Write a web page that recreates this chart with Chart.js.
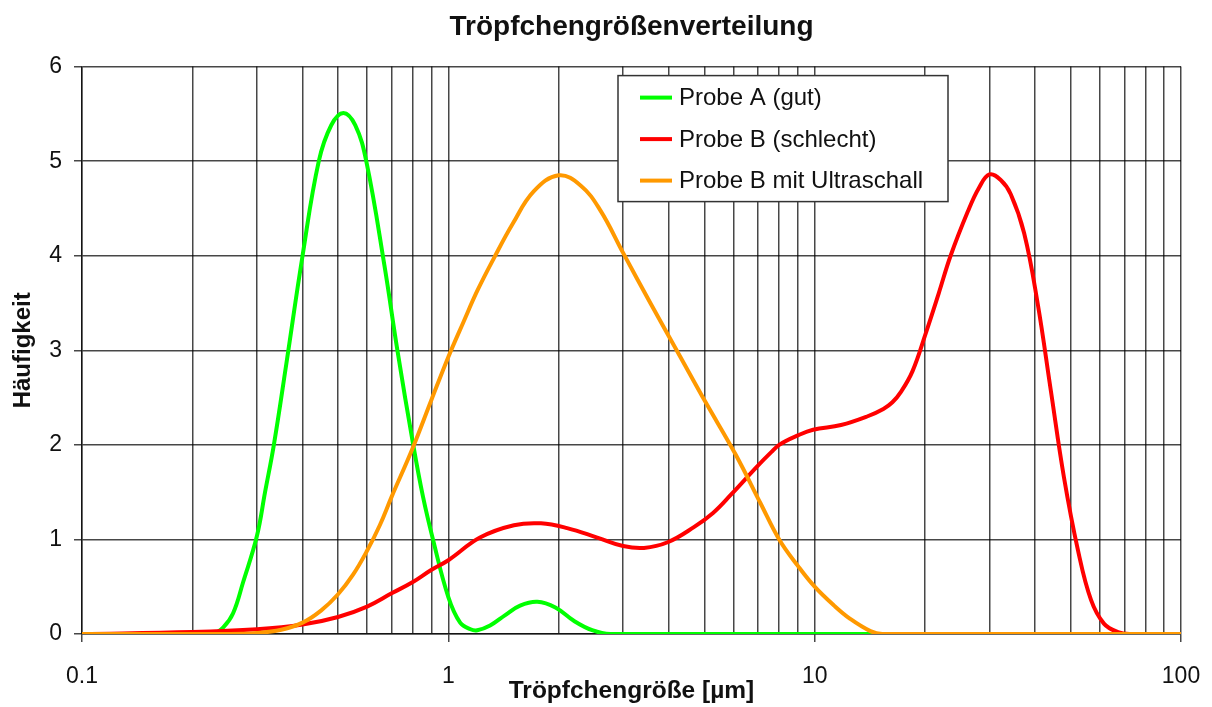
<!DOCTYPE html>
<html lang="de">
<head>
<meta charset="utf-8">
<title>Tröpfchengrößenverteilung</title>
<script src="https://cdn.jsdelivr.net/npm/chart.js@4.4.1/dist/chart.umd.min.js"></script>
<style>
  html, body { margin: 0; padding: 0; background: #fff; }
  #wrap { width: 1212px; height: 707px; }
</style>
</head>
<body>
<div id="wrap"><canvas id="dropChart" width="1212" height="707"></canvas></div>
<script>
// droplet size in µm (log axis) and frequency
const sizesA = [0.1, 0.2, 0.228, 0.243, 0.2585, 0.2754, 0.3, 0.316, 0.334, 0.361, 0.4, 0.443, 0.479, 0.517, 0.557, 0.597, 0.669, 0.726, 0.802, 0.853, 0.908, 1.0, 1.077, 1.15, 1.2, 1.3, 1.43, 1.57, 1.75, 1.96, 2.2, 2.47, 2.77, 100];
const valuesA = [0, 0, 0, 0.07, 0.22, 0.55, 1.03, 1.5, 2.0, 2.85, 4.0, 5.0, 5.38, 5.51, 5.38, 5.0, 3.9, 3.0, 2.0, 1.45, 1.0, 0.39, 0.12, 0.05, 0.04, 0.09, 0.2, 0.3, 0.34, 0.28, 0.14, 0.04, 0, 0];

const sizesB = [0.1, 0.2, 0.3, 0.4, 0.5, 0.6, 0.7, 0.8, 0.9, 1.0, 1.22, 1.51, 1.79, 2.11, 2.55, 3.0, 3.42, 3.97, 4.68, 5.28, 5.9, 7.0, 7.6, 8.0, 9.0, 9.9, 11.8, 13.9, 15.4, 16.3, 17.2, 18.5, 20.1, 21.8, 23.5, 26.2, 28.1, 30, 32.2, 34.3, 37.3, 40.6, 44.1, 47.9, 52.3, 56.8, 61.6, 67.3, 73, 100];
const valuesB = [0, 0.02, 0.05, 0.1, 0.18, 0.29, 0.43, 0.55, 0.68, 0.78, 1.02, 1.15, 1.17, 1.12, 1.02, 0.93, 0.91, 0.97, 1.13, 1.28, 1.47, 1.78, 1.92, 2.0, 2.1, 2.16, 2.21, 2.3, 2.38, 2.45, 2.56, 2.78, 3.18, 3.6, 4.0, 4.47, 4.72, 4.86, 4.8, 4.65, 4.24, 3.5, 2.58, 1.66, 0.89, 0.36, 0.11, 0.02, 0, 0];

const sizesC = [0.1, 0.25, 0.3, 0.35, 0.4, 0.45, 0.5, 0.55, 0.6, 0.65, 0.7, 0.8, 0.9, 1.0, 1.1, 1.2, 1.33, 1.5, 1.71, 2.0, 2.3, 2.6, 3.0, 3.56, 4.3, 5.04, 6.08, 7.12, 8.0, 9.0, 10.0, 11.3, 12.5, 14.2, 15.3, 100];
const valuesC = [0, 0, 0.01, 0.045, 0.12, 0.25, 0.42, 0.63, 0.88, 1.15, 1.45, 1.97, 2.48, 2.93, 3.3, 3.63, 3.97, 4.34, 4.68, 4.85, 4.74, 4.48, 4.03, 3.5, 2.93, 2.45, 1.9, 1.38, 1.0, 0.72, 0.5, 0.3, 0.16, 0.03, 0, 0];

const seriesLabels = ['Probe A (gut)', 'Probe B (schlecht)', 'Probe B mit Ultraschall'];
const seriesColors = ['#00ff00', '#ff0000', '#ff9900'];

const xGridValues = [0.1, 0.2, 0.3, 0.4, 0.5, 0.6, 0.7, 0.8, 0.9,
  1, 2, 3, 4, 5, 6, 7, 8, 9,
  10, 20, 30, 40, 50, 60, 70, 80, 90, 100];
const xLabelValues = [0.1, 1, 10, 100];

const fontFamily = '"Liberation Sans", Arial, Helvetica, sans-serif';
const gridColor = 'rgba(0, 0, 0, 0.72)';

Chart.defaults.font.family = fontFamily;
Chart.defaults.color = '#111';

function toPoints(xs, ys) {
  return xs.map((x, i) => ({ x, y: ys[i] }));
}

// legend box sitting inside the plot, top right
const insideLegend = {
  id: 'insideLegend',
  afterDatasetsDraw(chart) {
    const { ctx, chartArea } = chart;
    const x = chartArea.left + 536;
    const y = chartArea.top + 9;
    const w = 330;
    const h = 126;
    ctx.save();
    ctx.fillStyle = '#fff';
    ctx.fillRect(x, y, w, h);
    ctx.strokeStyle = '#333';
    ctx.lineWidth = 1.5;
    ctx.strokeRect(x, y, w, h);
    ctx.font = `24px ${fontFamily}`;
    ctx.textBaseline = 'middle';
    chart.data.datasets.forEach((ds, i) => {
      const rowY = y + 22 + i * 41.5;
      ctx.strokeStyle = ds.borderColor;
      ctx.lineWidth = 4;
      ctx.beginPath();
      ctx.moveTo(x + 22, rowY);
      ctx.lineTo(x + 54, rowY);
      ctx.stroke();
      ctx.fillStyle = '#111';
      ctx.fillText(ds.label, x + 61, rowY + 1);
    });
    ctx.restore();
  },
};

const lineStyle = {
  borderWidth: 4,
  pointRadius: 0,
  pointHoverRadius: 0,
  fill: false,
  tension: 0.4,
};

const ctx = document.getElementById('dropChart').getContext('2d');
new Chart(ctx, {
  type: 'line',
  data: {
    datasets: [
      { ...lineStyle, label: seriesLabels[0], data: toPoints(sizesA, valuesA), borderColor: seriesColors[0], order: 2 },
      { ...lineStyle, label: seriesLabels[1], data: toPoints(sizesB, valuesB), borderColor: seriesColors[1], order: 1 },
      { ...lineStyle, label: seriesLabels[2], data: toPoints(sizesC, valuesC), borderColor: seriesColors[2], order: 0 },
    ],
  },
  options: {
    responsive: false,
    devicePixelRatio: 1,
    animation: false,
    layout: { padding: { left: 0, right: 31, top: 0, bottom: 0 } },
    plugins: {
      legend: { display: false },
      tooltip: { enabled: false },
      title: {
        display: true,
        text: 'Tröpfchengrößenverteilung',
        fullSize: false,
        color: '#111',
        font: { size: 28, weight: 'bold' },
        padding: { top: 10, bottom: 23 },
      },
    },
    scales: {
      x: {
        type: 'logarithmic',
        min: 0.1,
        max: 100,
        afterBuildTicks: (scale) => {
          scale.ticks = xGridValues.map((v) => ({ value: v }));
        },
        afterFit: (scale) => {
          scale.height = 73;
          scale.paddingLeft = 0;
          scale.paddingRight = 0;
        },
        ticks: {
          autoSkip: false,
          maxRotation: 0,
          padding: 21,
          font: { size: 23 },
          callback: (value) => (xLabelValues.includes(value) ? String(value) : ''),
        },
        grid: {
          color: gridColor,
          lineWidth: 1.5,
          tickLength: 8,
          tickColor: (c) => (c.tick && xLabelValues.includes(c.tick.value) ? gridColor : 'rgba(0,0,0,0)'),
        },
        border: { color: gridColor, width: 1.5 },
        title: {
          display: true,
          text: 'Tröpfchengröße [µm]',
          color: '#111',
          font: { size: 24.5, weight: 'bold' },
          padding: { top: 0, bottom: 1 },
        },
      },
      y: {
        min: 0,
        max: 6,
        afterFit: (scale) => {
          scale.width = 82;
          scale.paddingTop = 0;
          scale.paddingBottom = 0;
        },
        ticks: {
          stepSize: 1,
          padding: 12,
          font: { size: 23 },
        },
        grid: {
          color: gridColor,
          lineWidth: 1.5,
          tickLength: 8,
        },
        border: { color: gridColor, width: 1.5 },
        title: {
          display: true,
          text: 'Häufigkeit',
          color: '#111',
          font: { size: 24, weight: 'bold' },
          padding: { top: 9, bottom: 0 },
        },
      },
    },
  },
  plugins: [insideLegend],
});
</script>
</body>
</html>
